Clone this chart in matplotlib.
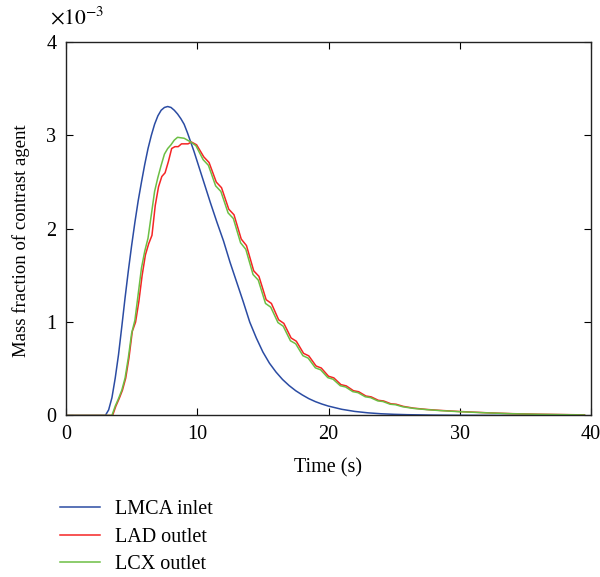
import numpy as np
import matplotlib
matplotlib.use("Agg")
import matplotlib.pyplot as plt
from matplotlib.ticker import FuncFormatter

plt.rcParams['font.family'] = ['Liberation Serif', 'DejaVu Serif']
plt.rcParams['mathtext.fontset'] = 'stix'

# ---- data (mass fraction in units of 1e-3) ----
lmca_time = [0, 3.0, 3.25, 3.5, 3.75, 4.0, 4.25, 4.5, 4.75, 5.0,
             5.25, 5.5, 5.75, 6.0, 6.25, 6.5, 6.75, 7.0, 7.25, 7.5,
             7.75, 8.0, 8.25, 8.5, 8.75, 9.0, 9.25, 9.5, 9.75, 10,
             10.5, 11, 11.5, 12, 12.5, 13, 13.5, 14, 14.5, 15,
             15.5, 16, 16.5, 17, 17.5, 18, 18.5, 19, 19.5, 20,
             21, 22, 23, 24, 25, 26, 28, 30, 33, 36, 39.5]
lmca_e3 = [0, 0, 0.06, 0.19, 0.40, 0.65, 0.95, 1.26, 1.55, 1.82,
           2.07, 2.30, 2.50, 2.69, 2.86, 3.00, 3.12, 3.21, 3.27, 3.30,
           3.31, 3.30, 3.27, 3.23, 3.18, 3.12, 3.03, 2.93, 2.83, 2.72,
           2.50, 2.28, 2.07, 1.87, 1.64, 1.43, 1.22, 1.00, 0.83, 0.68,
           0.56, 0.465, 0.385, 0.32, 0.265, 0.22, 0.18, 0.148, 0.122, 0.10,
           0.066, 0.043, 0.028, 0.018, 0.012, 0.008, 0.0035, 0.0015, 0.0005, 0.0001, 0]

lad_time = [0, 3.55, 3.8, 4.05, 4.3, 4.55, 4.8, 5.05, 5.3, 5.55,
            5.8, 6.05, 6.3, 6.55, 6.8, 7.05, 7.3, 7.55, 7.8, 8.05,
            8.3, 8.55, 8.8, 9.3, 9.55, 9.95, 10.5, 10.9, 11.45, 11.85,
            12.4, 12.8, 13.35, 13.75, 14.3, 14.7, 15.25, 15.65, 16.2, 16.6,
            17.15, 17.55, 18.1, 18.5, 19.05, 19.45, 20.0, 20.4, 20.95, 21.35,
            21.9, 22.3, 22.85, 23.25, 23.8, 24.2, 24.75, 25.15, 25.7, 26.5,
            27.5, 28.5, 30, 32, 34, 36, 38, 39.5]
lad_e3 = [0, 0, 0.10, 0.18, 0.27, 0.40, 0.62, 0.90, 1.00, 1.22,
          1.50, 1.72, 1.84, 1.93, 2.25, 2.45, 2.56, 2.60, 2.72, 2.86,
          2.88, 2.88, 2.91, 2.91, 2.93, 2.90, 2.77, 2.71, 2.50, 2.44,
          2.21, 2.15, 1.89, 1.82, 1.55, 1.49, 1.24, 1.20, 1.025, 0.986,
          0.83, 0.795, 0.665, 0.638, 0.53, 0.508, 0.42, 0.403, 0.33, 0.317,
          0.265, 0.254, 0.208, 0.199, 0.162, 0.155, 0.125, 0.12, 0.097, 0.078,
          0.064, 0.054, 0.042, 0.029, 0.019, 0.013, 0.009, 0.006]

lcx_time = [0, 3.5, 3.75, 4.0, 4.25, 4.5, 4.75, 5.0, 5.25, 5.5,
            5.75, 6.0, 6.25, 6.5, 6.75, 7.0, 7.25, 7.5, 7.75, 8.0,
            8.25, 8.5, 9.0, 9.5, 9.9, 10.45, 10.85, 11.4, 11.8, 12.35,
            12.75, 13.3, 13.7, 14.25, 14.65, 15.2, 15.6, 16.15, 16.55, 17.1,
            17.5, 18.05, 18.45, 19.0, 19.4, 19.95, 20.35, 20.9, 21.3, 21.85,
            22.25, 22.8, 23.2, 23.75, 24.15, 24.7, 25.1, 25.65, 26.5, 27.5,
            28.5, 30, 32, 34, 36, 38, 39.5]
lcx_e3 = [0, 0, 0.10, 0.18, 0.27, 0.40, 0.62, 0.88, 1.02, 1.30,
          1.58, 1.76, 1.90, 2.15, 2.40, 2.55, 2.68, 2.80, 2.86, 2.90,
          2.95, 2.98, 2.97, 2.93, 2.89, 2.74, 2.68, 2.46, 2.40, 2.17,
          2.11, 1.85, 1.78, 1.51, 1.45, 1.20, 1.16, 0.995, 0.956, 0.80,
          0.768, 0.64, 0.614, 0.51, 0.489, 0.405, 0.388, 0.318, 0.305, 0.255,
          0.244, 0.20, 0.191, 0.156, 0.149, 0.12, 0.115, 0.093, 0.075, 0.062,
          0.052, 0.04, 0.028, 0.018, 0.012, 0.008, 0.005]

series_labels = ['LMCA inlet', 'LAD outlet', 'LCX outlet']
x_ticks = [0, 10, 20, 30, 40]
y_ticks_e3 = [0, 1, 2, 3, 4]
y_scale_label = r'$\times 10^{-3}$'

# ---- figure ----
fs = 14.5
fig = plt.figure(figsize=(6.0, 5.77), dpi=100)
ax = fig.add_axes([0.110, 0.280, 0.875, 0.647])

ax.plot(lmca_time, np.array(lmca_e3) * 1e-3, color='#2b4ca3', lw=1.1, label=series_labels[0])
ax.plot(lad_time, np.array(lad_e3) * 1e-3, color='#f52525', lw=1.1, label=series_labels[1])
ax.plot(lcx_time, np.array(lcx_e3) * 1e-3, color='#6cbf44', lw=1.1, label=series_labels[2])

ax.set_xlim(0, 40)
ax.set_ylim(0, 4e-3)
ax.set_xticks(x_ticks)
ax.set_yticks(np.array(y_ticks_e3) * 1e-3)
ax.yaxis.set_major_formatter(FuncFormatter(lambda v, p: f'{v * 1e3:g}'))
ax.text(-0.03, 1.035, y_scale_label, transform=ax.transAxes, ha='left',
        va='bottom', fontsize=fs + 1)

ax.tick_params(direction='in', top=True, right=True, length=5, width=0.8,
               labelsize=fs, pad=7, colors='black')
for s in ax.spines.values():
    s.set_linewidth(1.0)
    s.set_color('#222222')

ax.set_xlabel('Time (s)', fontsize=fs, labelpad=10)
ax.set_ylabel('Mass fraction of contrast agent', fontsize=13.5)
ax.yaxis.set_label_coords(-0.068, 0.467)

handles, labels = ax.get_legend_handles_labels()
fig.legend(handles, labels, loc='upper left', bbox_to_anchor=(0.10, 0.133),
           frameon=False, fontsize=fs, handlelength=2.0, handletextpad=0.75,
           labelspacing=0.42, borderpad=0, borderaxespad=0)

fig.savefig('out.png', dpi=100)
